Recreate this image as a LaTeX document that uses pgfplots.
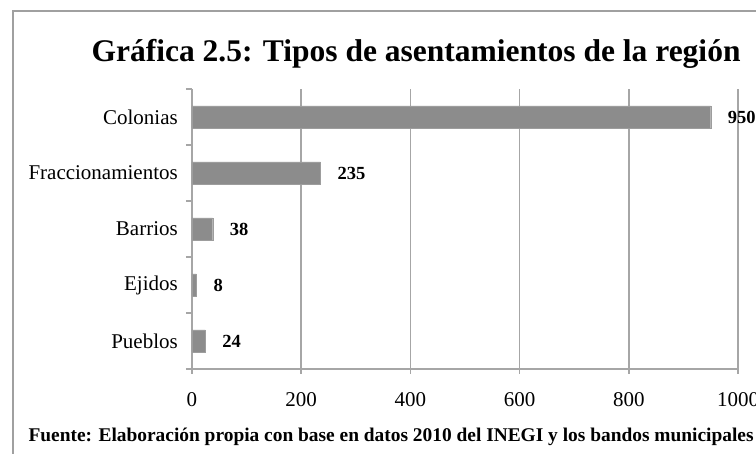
\documentclass[border=0pt]{standalone}
\usepackage{fontspec}
\setmainfont{Liberation Serif}
\usepackage{pgfplots}
\pgfplotsset{compat=1.18}
\definecolor{barfill}{RGB}{140,140,140}
\definecolor{gridc}{RGB}{166,166,166}
\definecolor{framec}{RGB}{160,160,160}

\begin{document}
\begin{tikzpicture}[x=1pt,y=1pt]
\useasboundingbox (0,0) rectangle (756,454);
\clip (0,0) rectangle (756,454);
% frame of the chart area (right and bottom edges fall outside the picture)
\draw[framec, line width=1.5pt] (13,-10) -- (13,443) -- (830,443);
\node[anchor=base, font=\fontsize{31.5}{33}\selectfont\bfseries] at (416,392)
  {Gráfica 2.5: Tipos de asentamientos de la región};
\begin{axis}[
  at={(192pt,85pt)}, anchor=south west,
  scale only axis, width=546pt, height=280pt,
  xbar, bar width=22pt,
  xmin=0, xmax=1000, ymin=-0.5, ymax=4.5,
  xtick={0,200,...,1000},
  ytick={0,1,2,3,4},
  yticklabels={Pueblos, Ejidos, Barrios, Fraccionamientos, Colonias},
  minor ytick={-0.5,0.5,...,4.5},
  axis x line*=bottom, axis y line*=left,
  axis line style={gridc, line width=1.5pt, -},
  xmajorgrids, major grid style={gridc, line width=1.5pt},
  major tick style={gridc, line width=1.5pt},
  minor tick style={gridc, line width=1.5pt},
  ytick style={draw=none},
  minor y tick style={draw=gridc},
  tick align=outside,
  major tick length=5pt, minor tick length=6pt,
  /pgf/number format/assume math mode=true,
  /pgf/number format/1000 sep={},
  xticklabel style={font=\fontsize{21}{23}\selectfont, inner sep=0pt, anchor=base, yshift=-33pt},
  yticklabel style={font=\fontsize{21}{23}\selectfont, inner sep=0pt, xshift=-9pt},
  nodes near coords,
  every node near coord/.append style={font=\fontsize{18.5}{20}\selectfont\bfseries,
    anchor=west, inner sep=0pt, xshift=17pt, text=black},
]
\addplot[fill=barfill, draw=barfill!85!white] coordinates {
  (24,0) (8,1) (38,2) (235,3) (950,4)};
\end{axis}
\node[anchor=base west, font=\fontsize{19.4}{21}\selectfont\bfseries] at (25,12)
  {Fuente: Elaboración propia con base en datos 2010 del INEGI y los bandos municipales};
\end{tikzpicture}
\end{document}
